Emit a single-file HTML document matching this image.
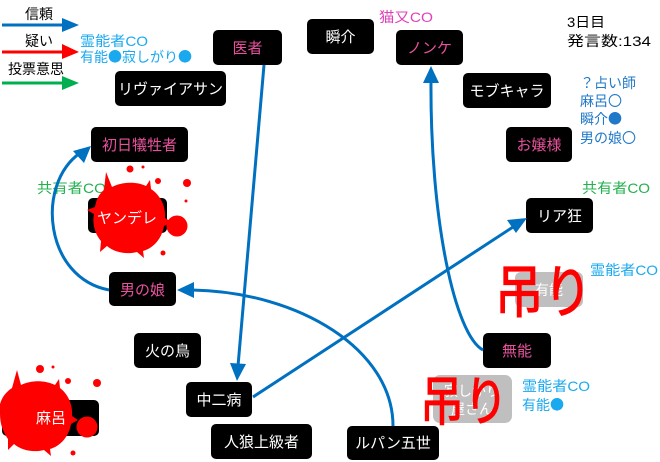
<!DOCTYPE html>
<html><head><meta charset="utf-8"><style>
html,body{margin:0;padding:0;background:#fff;}
svg{display:block;}
text{font-family:"Liberation Sans","Noto Sans CJK JP",sans-serif;}
.c{font-family:"Noto Sans CJK JP",sans-serif;}
.n{fill:#000;}
.w{fill:#fff;font-size:15px;}
.p{fill:#e8529c;font-size:15px;}
</style></head><body>
<svg width="660" height="462" viewBox="0 0 660 462" xmlns="http://www.w3.org/2000/svg">
<rect width="660" height="462" fill="#fff"/>

<!-- legend -->
<text x="25" y="19" font-size="14" fill="#000">信頼</text>
<line x1="2" y1="25" x2="63" y2="25" stroke="#0070c0" stroke-width="3"/>
<path d="M62,18 L79,25 L62,32 z" fill="#0070c0"/>
<text x="25" y="46" font-size="14" fill="#000">疑い</text>
<line x1="2" y1="52" x2="63" y2="52" stroke="#ff0000" stroke-width="3"/>
<path d="M62,44 L79,52 L62,59 z" fill="#ff0000"/>
<text x="8" y="74" font-size="14" fill="#000">投票意思</text>
<line x1="2" y1="83" x2="63" y2="83" stroke="#00b050" stroke-width="3"/>
<path d="M62,76 L79,83 L62,90 z" fill="#00b050"/>
<text x="80" y="46" font-size="14" fill="#1aa9ef" textLength="68" lengthAdjust="spacingAndGlyphs">霊能者CO</text>
<text x="80" y="62" font-size="14" fill="#1aa9ef">有能<tspan class="c">●</tspan>寂しがり<tspan class="c">●</tspan></text>

<!-- top right info -->
<text x="567" y="27" font-size="14" fill="#000" textLength="38" lengthAdjust="spacingAndGlyphs">3日目</text>
<text x="567" y="46" font-size="14" fill="#000" textLength="84" lengthAdjust="spacingAndGlyphs">発言数:134</text>
<text x="580" y="88" font-size="14" fill="#1f78c8">？占い師</text>
<text x="580" y="106" font-size="14" fill="#1f78c8">麻呂〇</text>
<text x="580" y="124" font-size="14" fill="#1f78c8">瞬介<tspan class="c">●</tspan></text>
<text x="580" y="143" font-size="14" fill="#1f78c8">男の娘〇</text>
<text x="379" y="22" font-size="14" fill="#e040b8" textLength="54" lengthAdjust="spacingAndGlyphs">猫又CO</text>
<text x="37" y="193" font-size="14" fill="#22b14c" textLength="69" lengthAdjust="spacingAndGlyphs">共有者CO</text>
<text x="582" y="193" font-size="14" fill="#22b14c" textLength="68" lengthAdjust="spacingAndGlyphs">共有者CO</text>
<text x="590" y="275" font-size="14" fill="#1aa9ef" textLength="68" lengthAdjust="spacingAndGlyphs">霊能者CO</text>
<text x="522" y="391" font-size="14" fill="#1aa9ef" textLength="68" lengthAdjust="spacingAndGlyphs">霊能者CO</text>
<text x="522" y="410" font-size="14" fill="#1aa9ef">有能<tspan class="c">●</tspan></text>

<!-- nodes -->
<rect class="n" x="115" y="71" width="111" height="35" rx="5"/><text class="w" x="170.5" y="94" text-anchor="middle">リヴァイアサン</text>
<rect class="n" x="213" y="30" width="69" height="35" rx="5"/><text class="p" x="247.5" y="53" text-anchor="middle">医者</text>
<rect class="n" x="307" y="19" width="67" height="35" rx="5"/><text class="w" x="340.5" y="42" text-anchor="middle">瞬介</text>
<rect class="n" x="396" y="30" width="67" height="35" rx="5"/><text class="p" x="429.5" y="53" text-anchor="middle">ノンケ</text>
<rect class="n" x="463" y="73" width="88" height="35" rx="5"/><text class="w" x="507" y="96" text-anchor="middle">モブキャラ</text>
<rect class="n" x="506" y="127" width="66" height="35" rx="5"/><text class="p" x="539" y="150" text-anchor="middle">お嬢様</text>
<rect class="n" x="91" y="127" width="97" height="35" rx="5"/><text class="p" x="139.5" y="150" text-anchor="middle">初日犠牲者</text>
<rect class="n" x="88" y="198" width="79" height="35" rx="5"/>
<rect class="n" x="109" y="272" width="67" height="34" rx="5"/><text class="p" x="142.5" y="295" text-anchor="middle">男の娘</text>
<rect class="n" x="526" y="198" width="67" height="35" rx="5"/><text class="w" x="559.5" y="221" text-anchor="middle">リア狂</text>
<rect class="n" x="483" y="333" width="68" height="35" rx="5"/><text class="p" x="517" y="356" text-anchor="middle">無能</text>
<rect class="n" x="134" y="333" width="67" height="35" rx="5"/><text class="w" x="167.5" y="356" text-anchor="middle">火の鳥</text>
<rect class="n" x="186" y="382" width="66" height="35" rx="5"/><text class="w" x="219" y="405" text-anchor="middle">中二病</text>
<rect class="n" x="211" y="424" width="101" height="35" rx="5"/><text class="w" x="261.5" y="447" text-anchor="middle">人狼上級者</text>
<rect class="n" x="347" y="426" width="92" height="34" rx="5"/><text class="w" x="393" y="448" text-anchor="middle">ルパン五世</text>
<rect class="n" x="2" y="400" width="97" height="36" rx="5"/>

<!-- grey (dead) boxes -->
<rect x="515" y="272" width="68" height="35" rx="6" fill="#bfbfbf"/>
<text x="549" y="295" font-size="14" fill="#fff" text-anchor="middle">有能</text>
<rect x="433" y="375" width="79" height="48" rx="7" fill="#bfbfbf"/>
<text x="472" y="396" font-size="14" fill="#fff" text-anchor="middle">寂しがり</text>
<text x="472" y="414" font-size="14" fill="#fff" text-anchor="middle">屋さん</text>

<!-- arrows -->
<g fill="none" stroke="#0070c0" stroke-width="3">
<line x1="264" y1="65" x2="238" y2="366"/>
<path d="M483,350 C 455,335 430,220 431,80"/>
<line x1="253" y1="397" x2="513" y2="227"/>
<path d="M393,426 C 393,350 300,292 192,290"/>
<path d="M109,290 C 45,278 35,185 80,153"/>
</g>
<g fill="#0070c0">
<path d="M237,381 L230,363 L246,364 z"/>
<path d="M431,66 L439,83 L423,83 z"/>
<path d="M527,218 L516,233 L507,220 z"/>
<path d="M177,290 L194,282 L194,298 z"/>
<path d="M91,146 L84,163 L73,151 z"/>
</g>

<!-- splatters -->
<g fill="#ff0000">
<path d="M104,190 L106,172 L112,187 C122,182 136,181 146,186 L150,180 L151,189 C160,195 166,206 165,218 L172,222 L164,226 C162,238 154,248 143,251 L144,258 L137,252 C126,255 114,252 107,246 L100,252 L101,241 C95,234 92,224 94,214 L87,210 L95,207 C96,200 99,194 104,190 z"/>
<circle cx="177" cy="226" r="10.5"/>
<circle cx="130" cy="169" r="3.5"/>
<circle cx="143" cy="167" r="1.5"/>
<circle cx="158" cy="181" r="3"/>
<circle cx="187" cy="183" r="4"/>
<circle cx="186" cy="201" r="1.5"/>
<circle cx="163" cy="253" r="2.5"/>

<path d="M12,388 L17,370 L21,385 C31,380 45,380 55,385 L59,379 L60,388 C68,394 73,405 72,416 L78,420 L71,424 C69,436 61,446 50,449 L51,456 L44,450 C33,453 21,450 14,444 L8,450 L8,439 C3,432 0,424 0,414 L0,404 C2,397 6,392 12,388 z"/>
<circle cx="87" cy="427" r="10.5"/>
<circle cx="40" cy="369" r="4"/>
<circle cx="53" cy="367" r="1.5"/>
<circle cx="68" cy="381" r="3"/>
<circle cx="97" cy="383" r="4"/>
<circle cx="73" cy="453" r="2.5"/>
</g>
<text class="w" x="127" y="223" text-anchor="middle">ヤンデレ</text>
<text class="w" x="51" y="423" text-anchor="middle">麻呂</text>

<!-- 吊り -->
<text x="495" y="312" font-size="57" fill="#ff0000" stroke="#ff0000" stroke-width="1.2" textLength="97" lengthAdjust="spacingAndGlyphs">吊り</text>
<text x="420" y="420" font-size="53" fill="#ff0000" stroke="#ff0000" stroke-width="1.2" textLength="88" lengthAdjust="spacingAndGlyphs">吊り</text>
</svg>
</body></html>
